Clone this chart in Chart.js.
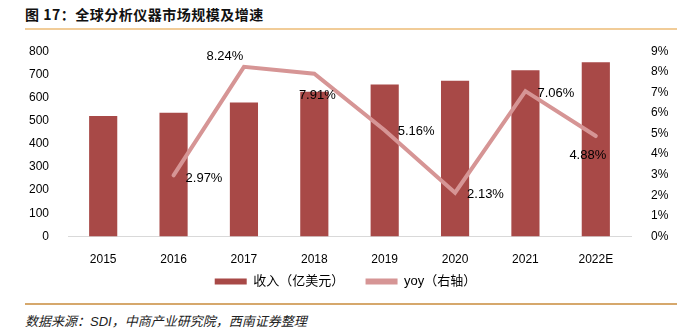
<!DOCTYPE html>
<html lang="zh">
<head>
    <meta charset="UTF-8">
    <title>全球分析仪器市场规模及增速</title>
    <script src="https://cdn.jsdelivr.net/npm/chart.js"></script>
    <style>
        body {
            margin: 0;
            width: 691px;
            height: 335px;
            background: #fff;
            position: relative;
            overflow: hidden;
            font-family: 'Liberation Sans', 'Noto Sans CJK SC', sans-serif;
        }
        .title {
            position: absolute;
            left: 25px;
            top: 4px;
            font-family: 'Noto Sans CJK SC', sans-serif;
            font-weight: bold;
            font-size: 14px;
            letter-spacing: 0.5px;
            color: #111;
        }
        .rule-top {
            position: absolute;
            left: 25px;
            top: 28px;
            width: 652px;
            height: 2px;
            background: #f1cc98;
        }
        .rule-bottom {
            position: absolute;
            left: 25px;
            top: 303px;
            width: 652px;
            height: 2px;
            background: #d6a86c;
        }
        .source {
            position: absolute;
            left: 25px;
            top: 311px;
            font-size: 13px;
            font-style: italic;
            color: #222;
        }
        .chart-box {
            position: absolute;
            left: 0;
            top: 32px;
            width: 691px;
            height: 268px;
        }
    </style>
</head>
<body>
    <div class="title">图 17：全球分析仪器市场规模及增速</div>
    <div class="rule-top"></div>
    <div class="chart-box"><canvas id="chart"></canvas></div>
    <div class="rule-bottom"></div>
    <div class="source">数据来源：SDI，中商产业研究院，西南证券整理</div>

    <script>
        // data
        const years = ['2015', '2016', '2017', '2018', '2019', '2020', '2021', '2022E'];
        const revenue = [520, 534, 579, 625, 656, 672, 718, 752];   // 亿美元
        const yoy = [null, 2.97, 8.24, 7.91, 5.16, 2.13, 7.06, 4.88]; // %
        const leftTicks = { min: 0, max: 800, step: 100 };
        const rightTicks = { min: 0, max: 9, step: 1 };

        const BAR = '#a84947';
        const LINE = '#d69595';
        const FONT = "'Liberation Sans', 'Noto Sans CJK SC', sans-serif";

        // label placement next to each yoy point (dx, dy, align)
        const labelPos = [
            null,
            [12, 3, 'left'],
            [-19, -10, 'center'],
            [3, 22, 'center'],
            [13, 1, 'left'],
            [12, 2, 'left'],
            [12, 2, 'left'],
            [-8, 19, 'center']
        ];

        const yoyLabels = {
            id: 'yoyLabels',
            afterDatasetsDraw(chart) {
                const meta = chart.getDatasetMeta(1);
                const ctx = chart.ctx;
                ctx.save();
                ctx.font = '13px ' + FONT;
                ctx.fillStyle = '#000';
                ctx.textBaseline = 'middle';
                meta.data.forEach((pt, i) => {
                    if (yoy[i] == null) return;
                    const [dx, dy, align] = labelPos[i];
                    ctx.textAlign = align;
                    ctx.fillText(yoy[i].toFixed(2) + '%', pt.x + dx, pt.y + dy);
                });
                ctx.restore();
            }
        };

        new Chart(document.getElementById('chart'), {
            data: {
                labels: years,
                datasets: [{
                    type: 'bar',
                    label: '收入（亿美元）',
                    data: revenue,
                    backgroundColor: BAR,
                    barPercentage: 0.4,
                    categoryPercentage: 1.0,
                    yAxisID: 'y',
                    order: 1
                }, {
                    type: 'line',
                    label: 'yoy（右轴）',
                    data: yoy,
                    borderColor: LINE,
                    backgroundColor: LINE,
                    borderWidth: 4,
                    borderCapStyle: 'round',
                    pointRadius: 0,
                    tension: 0,
                    yAxisID: 'y1',
                    order: 0
                }]
            },
            options: {
                responsive: true,
                maintainAspectRatio: false,
                animation: false,
                layout: { padding: { top: 15, bottom: 2, left: 0, right: 0 } },
                plugins: {
                    tooltip: { enabled: false },
                    legend: {
                        position: 'bottom',
                        labels: {
                            boxWidth: 32,
                            boxHeight: 6,
                            padding: 10.5,
                            color: '#111',
                            font: { size: 13, family: FONT },
                            sort: (a, b) => a.datasetIndex - b.datasetIndex,
                            generateLabels(chart) {
                                return chart.data.datasets.map((ds, i) => ({
                                    // a little extra room after the first item
                                    text: ds.type === 'bar' ? ds.label + '   ' : ds.label,
                                    fillStyle: ds.type === 'bar' ? BAR : LINE,
                                    strokeStyle: ds.type === 'bar' ? BAR : LINE,
                                    lineWidth: 0,
                                    datasetIndex: i
                                }));
                            }
                        }
                    }
                },
                scales: {
                    x: {
                        grid: { display: false },
                        border: { display: true, color: '#d9d9d9', width: 1 },
                        ticks: { color: '#000', font: { size: 12, family: FONT }, padding: 8 },
                        afterFit(scale) { scale.height = 28; }
                    },
                    y: {
                        position: 'left',
                        min: leftTicks.min,
                        max: leftTicks.max,
                        grid: { display: false },
                        border: { display: false },
                        ticks: {
                            stepSize: leftTicks.step,
                            color: '#000',
                            padding: 11,
                            font: { size: 12, family: FONT }
                        },
                        afterFit(scale) { scale.width = 68; }
                    },
                    y1: {
                        position: 'right',
                        min: rightTicks.min,
                        max: rightTicks.max,
                        grid: { display: false },
                        border: { display: false },
                        ticks: {
                            stepSize: rightTicks.step,
                            color: '#000',
                            padding: 12,
                            font: { size: 12, family: FONT },
                            callback: v => v + '%'
                        },
                        afterFit(scale) { scale.width = 60; }
                    }
                }
            },
            plugins: [yoyLabels]
        });
    </script>
</body>
</html>
